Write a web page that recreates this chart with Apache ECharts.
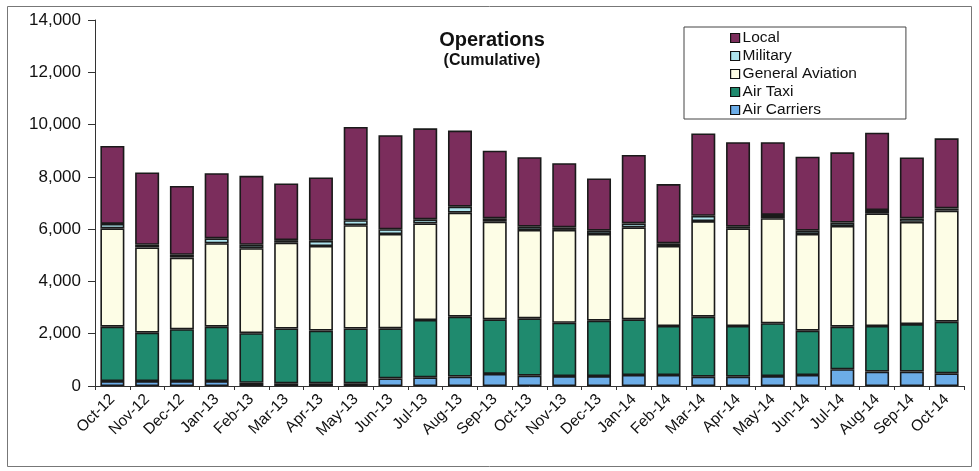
<!DOCTYPE html>
<html>
<head>
<meta charset="utf-8">
<script src="https://cdn.jsdelivr.net/npm/echarts@6/dist/echarts.min.js"></script>
<style>
html,body{margin:0;padding:0;background:#fff;}
#chart{width:979px;height:471px;}
</style>
</head>
<body>
<div id="chart"></div>
<script>
var categories = ['Oct-12','Nov-12','Dec-12','Jan-13','Feb-13','Mar-13','Apr-13','May-13','Jun-13','Jul-13','Aug-13','Sep-13','Oct-13','Nov-13','Dec-13','Jan-14','Feb-14','Mar-14','Apr-14','May-14','Jun-14','Jul-14','Aug-14','Sep-14','Oct-14'];
var airCarriers = [190,190,190,190,120,100,100,100,290,330,360,460,395,380,380,420,420,355,355,380,420,640,550,550,485];
var airTaxi = [2080,1850,1980,2080,1900,2100,2020,2100,1915,2195,2290,2090,2195,2040,2120,2130,1875,2295,1940,2020,1695,1630,1745,1820,1975];
var generalAviation = [3760,3260,2740,3190,3250,3280,3235,3950,3610,3695,3980,3735,3378,3550,3315,3520,3060,3660,3735,4020,3700,3850,4310,3910,4245];
var military = [170,100,110,190,130,100,200,190,180,155,230,130,127,100,125,150,100,200,65,125,125,130,125,130,90];
var local = [2980,2770,2630,2490,2640,2165,2420,3570,3600,3480,2910,2585,2655,2450,2000,2620,2270,3150,3230,2780,2830,2690,2960,2335,2680];
var yTicks = [0,2000,4000,6000,8000,10000,12000,14000];

var colors = {
  'Air Carriers': '#6cade8',
  'Air Taxi': '#1f8a6e',
  'General Aviation': '#fdfde6',
  'Military': '#aee4ee',
  'Local': '#7b2d5c'
};

function mk(name, data) {
  return {
    name: name, type: 'bar', stack: 'ops', data: data, barWidth: 24,
    itemStyle: { color: colors[name], borderColor: '#1a1a1a', borderWidth: 1.6 }
  };
}

var chart = echarts.init(document.getElementById('chart'));
chart.setOption({
  animation: false,
  textStyle: { fontFamily: 'Liberation Sans, Arial, sans-serif' },
  title: {
    text: 'Operations', subtext: '(Cumulative)',
    left: 487, top: 25, textAlign: 'center', itemGap: 3,
    textStyle: { fontSize: 20, fontWeight: 'bold', color: '#111', fontFamily: 'Liberation Sans, Arial, sans-serif' },
    subtextStyle: { fontSize: 16, fontWeight: 'bold', color: '#111', fontFamily: 'Liberation Sans, Arial, sans-serif' }
  },
  legend: {
    orient: 'vertical', left: 684, top: 27,
    padding: [3, 49, 1, 46], itemGap: 2,
    borderColor: '#444', borderWidth: 1,
    itemWidth: 9, itemHeight: 9, icon: 'rect',
    itemStyle: { borderColor: '#111', borderWidth: 1.2 },
    textStyle: { fontSize: 15.5, color: '#111', lineHeight: 16, padding: [0,0,0,-2] },
    data: ['Local','Military','General Aviation','Air Taxi','Air Carriers']
  },
  grid: { left: 95, right: 15, top: 20, bottom: 85, containLabel: false },
  xAxis: {
    type: 'category', data: categories,
    axisLine: { lineStyle: { color: '#333', width: 1 } },
    axisTick: { show: true, alignWithLabel: false, length: 4, lineStyle: { color: '#333' } },
    axisLabel: { rotate: 45, fontSize: 15.5, color: '#111', margin: 11, interval: 0 }
  },
  yAxis: {
    type: 'value', min: 0, max: 14000, interval: 2000,
    axisLine: { show: true, lineStyle: { color: '#333', width: 1 } },
    axisTick: { show: true, length: 7, lineStyle: { color: '#333' } },
    splitLine: { show: false },
    axisLabel: { fontSize: 17, color: '#111', margin: 14,
      formatter: function (v) { return yTicks.indexOf(v) >= 0 ? v.toLocaleString('en-US') : ''; } }
  },
  graphic: [{
    type: 'rect', shape: { x: 7.5, y: 6.5, width: 964, height: 460 },
    style: { fill: 'none', stroke: '#777', lineWidth: 1 }, silent: true, z: -1
  }],
  series: [
    mk('Air Carriers', airCarriers),
    mk('Air Taxi', airTaxi),
    mk('General Aviation', generalAviation),
    mk('Military', military),
    mk('Local', local)
  ]
});
</script>
</body>
</html>
